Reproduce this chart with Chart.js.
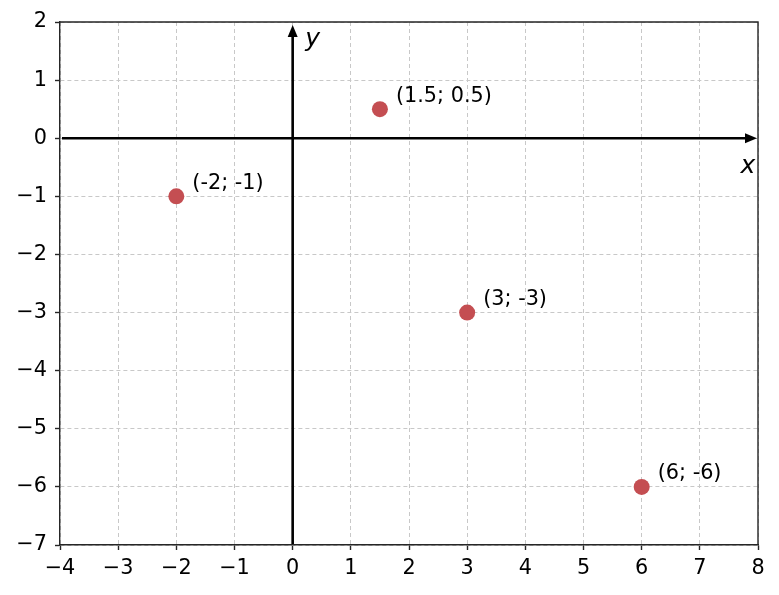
<!DOCTYPE html>
<html>
<head>
<meta charset="utf-8">
<script src="https://cdn.jsdelivr.net/npm/chart.js@4/dist/chart.umd.min.js"></script>
<style>
  html, body { margin: 0; padding: 0; background: #fff; }
  #wrap { width: 779px; height: 595px; }
</style>
</head>
<body>
<div id="wrap"><canvas id="plot" width="779" height="595"></canvas></div>
<script>
// data
const pointsX = [-2, 1.5, 3, 6];
const pointsY = [-1, 0.5, -3, -6];
const pointLabels = ['(-2; -1)', '(1.5; 0.5)', '(3; -3)', '(6; -6)'];
const xTicks = [-4, -3, -2, -1, 0, 1, 2, 3, 4, 5, 6, 7, 8];
const yTicks = [-7, -6, -5, -4, -3, -2, -1, 0, 1, 2];

const FONT = '"DejaVu Sans", sans-serif';
const frameColor = '#262626';

function fmtTick(v) {
    return v < 0 ? '\u2212' + Math.abs(v) : String(v);
}

// axes through origin with arrows, frame top/right, point labels
const overlay = {
    id: 'overlay',
    afterDatasetsDraw(chart) {
        const ctx = chart.ctx;
        const a = chart.chartArea;
        const xs = chart.scales.x, ys = chart.scales.y;
        const x0 = xs.getPixelForValue(0);
        const y0 = ys.getPixelForValue(0);
        ctx.save();

        // frame top and right
        ctx.strokeStyle = frameColor;
        ctx.lineWidth = 1.4;
        ctx.beginPath();
        ctx.moveTo(a.left, a.top);
        ctx.lineTo(a.right, a.top);
        ctx.lineTo(a.right, a.bottom);
        ctx.stroke();

        // axis lines
        ctx.strokeStyle = '#000';
        ctx.fillStyle = '#000';
        ctx.lineWidth = 2.6;
        ctx.beginPath();
        ctx.moveTo(a.left + 2, y0);
        ctx.lineTo(a.right - 8, y0);
        ctx.moveTo(x0, a.bottom - 1);
        ctx.lineTo(x0, a.top + 10);
        ctx.stroke();

        // arrow heads
        ctx.beginPath();
        ctx.moveTo(a.right - 1, y0);
        ctx.lineTo(a.right - 13, y0 - 5);
        ctx.lineTo(a.right - 13, y0 + 5);
        ctx.closePath();
        ctx.fill();
        ctx.beginPath();
        ctx.moveTo(x0, a.top + 3);
        ctx.lineTo(x0 - 5, a.top + 15);
        ctx.lineTo(x0 + 5, a.top + 15);
        ctx.closePath();
        ctx.fill();

        // axis names
        ctx.font = 'italic 25px ' + FONT;
        ctx.textAlign = 'center';
        ctx.textBaseline = 'middle';
        ctx.fillText('x', a.right - 10, y0 + 28);
        ctx.fillText('y', x0 + 20, a.top + 17);

        // point labels
        ctx.font = '20.8px ' + FONT;
        ctx.textAlign = 'left';
        ctx.textBaseline = 'middle';
        pointsX.forEach((px, i) => {
            const cx = xs.getPixelForValue(px);
            const cy = ys.getPixelForValue(pointsY[i]);
            ctx.fillText(pointLabels[i], cx + 16, cy - 13);
        });
        ctx.restore();
    }
};

const ctx = document.getElementById('plot').getContext('2d');
new Chart(ctx, {
    type: 'scatter',
    data: {
        datasets: [{
            data: pointsX.map((x, i) => ({ x: x, y: pointsY[i] })),
            backgroundColor: '#c44e52',
            borderColor: '#c44e52',
            pointRadius: 8,
            pointHoverRadius: 8,
            borderWidth: 0
        }]
    },
    options: {
        responsive: false,
        devicePixelRatio: 1,
        animation: false,
        layout: { padding: { left: 0, top: 22, right: 21, bottom: 0 } },
        plugins: {
            legend: { display: false },
            tooltip: { enabled: false }
        },
        scales: {
            x: {
                type: 'linear',
                min: -4,
                max: 8,
                afterBuildTicks: s => { s.ticks = xTicks.map(v => ({ value: v })); },
                afterFit: s => { s.height = 50; },
                ticks: {
                    callback: v => fmtTick(v),
                    color: '#000',
                    font: { family: FONT, size: 20.8 },
                    padding: 6,
                    maxRotation: 0,
                    autoSkip: false
                },
                grid: {
                    color: '#c8c8c8',
                    lineWidth: 1,
                    drawTicks: true,
                    tickLength: 5,
                    tickColor: frameColor,
                    tickWidth: 1.4,
                    tickBorderDash: []
                },
                border: { display: true, color: frameColor, width: 1.4, dash: [4, 3] }
            },
            y: {
                type: 'linear',
                min: -7,
                max: 2,
                afterBuildTicks: s => { s.ticks = yTicks.map(v => ({ value: v })); },
                afterFit: s => { s.width = 60; },
                ticks: {
                    callback: v => fmtTick(v),
                    color: '#000',
                    font: { family: FONT, size: 20.8 },
                    padding: 8,
                    autoSkip: false
                },
                grid: {
                    color: '#c8c8c8',
                    lineWidth: 1,
                    drawTicks: true,
                    tickLength: 5,
                    tickColor: frameColor,
                    tickWidth: 1.4,
                    tickBorderDash: []
                },
                border: { display: true, color: frameColor, width: 1.4, dash: [4, 3] }
            }
        }
    },
    plugins: [overlay]
});
</script>
</body>
</html>
